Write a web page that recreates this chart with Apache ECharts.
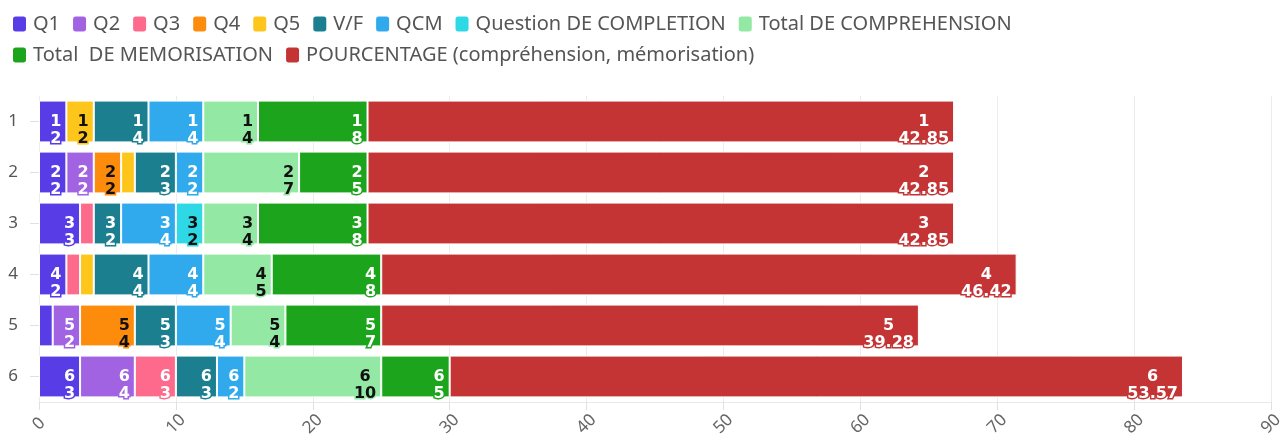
<!DOCTYPE html>
<html lang="fr">
<head>
  <meta charset="UTF-8">
  <title>Résultats</title>
  <style>
      html, body { margin: 0; padding: 0; background: #fff; }
      #chart { width: 1286px; height: 439px; }
  </style>
</head>
<body>
<div id="chart"></div>
<script src="https://cdn.jsdelivr.net/npm/echarts@6/dist/echarts.min.js"></script>
<script>
  // données
  const categories = ['1', '2', '3', '4', '5', '6'];
  const q1 = [2, 2, 3, 2, 1, 3];
  const q2 = [0, 2, 0, 0, 2, 4];
  const q3 = [0, 0, 1, 1, 0, 3];
  const q4 = [0, 2, 0, 0, 4, 0];
  const q5 = [2, 1, 0, 1, 0, 0];
  const vf = [4, 3, 2, 4, 3, 3];
  const qcm = [4, 2, 4, 4, 4, 2];
  const completion = [0, 0, 2, 0, 0, 0];
  const comprehension = [4, 7, 4, 5, 4, 10];
  const memorisation = [8, 5, 8, 8, 7, 5];
  const pourcentage = [42.85, 42.85, 42.85, 46.42, 39.28, 53.57];
  const xTicks = [0, 10, 20, 30, 40, 50, 60, 70, 80, 90];

  const seriesDefs = [
    { name: 'Q1', data: q1, color: '#583de6', text: '#fff' },
    { name: 'Q2', data: q2, color: '#a263e3', text: '#fff' },
    { name: 'Q3', data: q3, color: '#fe6a8c', text: '#fff' },
    { name: 'Q4', data: q4, color: '#fe8c0c', text: '#111' },
    { name: 'Q5', data: q5, color: '#fec51a', text: '#111' },
    { name: 'V/F', data: vf, color: '#1b7f90', text: '#fff' },
    { name: 'QCM', data: qcm, color: '#30aaed', text: '#fff' },
    { name: 'Question DE COMPLETION', data: completion, color: '#2fd8e5', text: '#111' },
    { name: 'Total DE COMPREHENSION', data: comprehension, color: '#93e9a3', text: '#111' },
    { name: 'Total  DE MEMORISATION', data: memorisation, color: '#1ca51c', text: '#fff' },
    { name: 'POURCENTAGE (compréhension, mémorisation)', data: pourcentage, color: '#c53435', text: '#fff' }
  ];

  const series = seriesDefs.map(function (s) {
    const line = { align: 'center', lineHeight: 17 };
    return {
      name: s.name,
      type: 'bar',
      stack: 'total',
      barCategoryGap: '18%',
      data: s.data.map(function (v) { return v === 0 ? '-' : v; }),
      itemStyle: { color: s.color, borderColor: '#fff', borderWidth: 1 },
      label: {
        show: true,
        position: 'insideRight',
        distance: 5,
        offset: [0, 9],
        color: s.text,
        fontFamily: 'DejaVu Sans',
        fontWeight: 'bold',
        fontSize: 16,
        lineHeight: 17,
        textBorderColor: s.color,
        textBorderWidth: 3,
        rich: { c: line },
        formatter: function (p) {
          // les barres de valeur 1 sont trop étroites : pas d'étiquette
          if (p.value < 2) return '';
          return '{c|' + p.name + '}\n{c|' + p.value + '}';
        }
      },
      emphasis: { disabled: true }
    };
  });

  const chart = echarts.init(document.getElementById('chart'));
  chart.setOption({
    animation: false,
    textStyle: { fontFamily: 'Noto Sans' },
    legend: {
      left: 6,
      top: 9,
      width: 1070,
      icon: 'roundRect',
      itemWidth: 15,
      itemHeight: 17,
      itemGap: 11,
      textStyle: { fontSize: 20, color: '#555', padding: [0, 0, 0, 1] },
      data: seriesDefs.map(function (s) { return s.name; })
    },
    grid: { left: 39, right: 14, top: 96, bottom: 33 },
    xAxis: {
      type: 'value',
      min: xTicks[0],
      max: xTicks[xTicks.length - 1],
      interval: 10,
      axisLine: { show: true, lineStyle: { color: '#e8e8e8' } },
      axisTick: { show: true, length: 8, lineStyle: { color: '#e0e0e0' } },
      splitLine: { show: true, lineStyle: { color: '#ececec' } },
      axisLabel: { rotate: 45, align: 'center', verticalAlign: 'middle', fontSize: 17, color: '#666', margin: 22 }
    },
    yAxis: {
      type: 'category',
      inverse: true,
      data: categories,
      axisLine: { show: false },
      axisTick: { show: true, length: 9, alignWithLabel: true, lineStyle: { color: '#e0e0e0' } },
      axisLabel: { fontSize: 17, color: '#555', margin: 21 }
    },
    series: series
  });
</script>
</body>
</html>
